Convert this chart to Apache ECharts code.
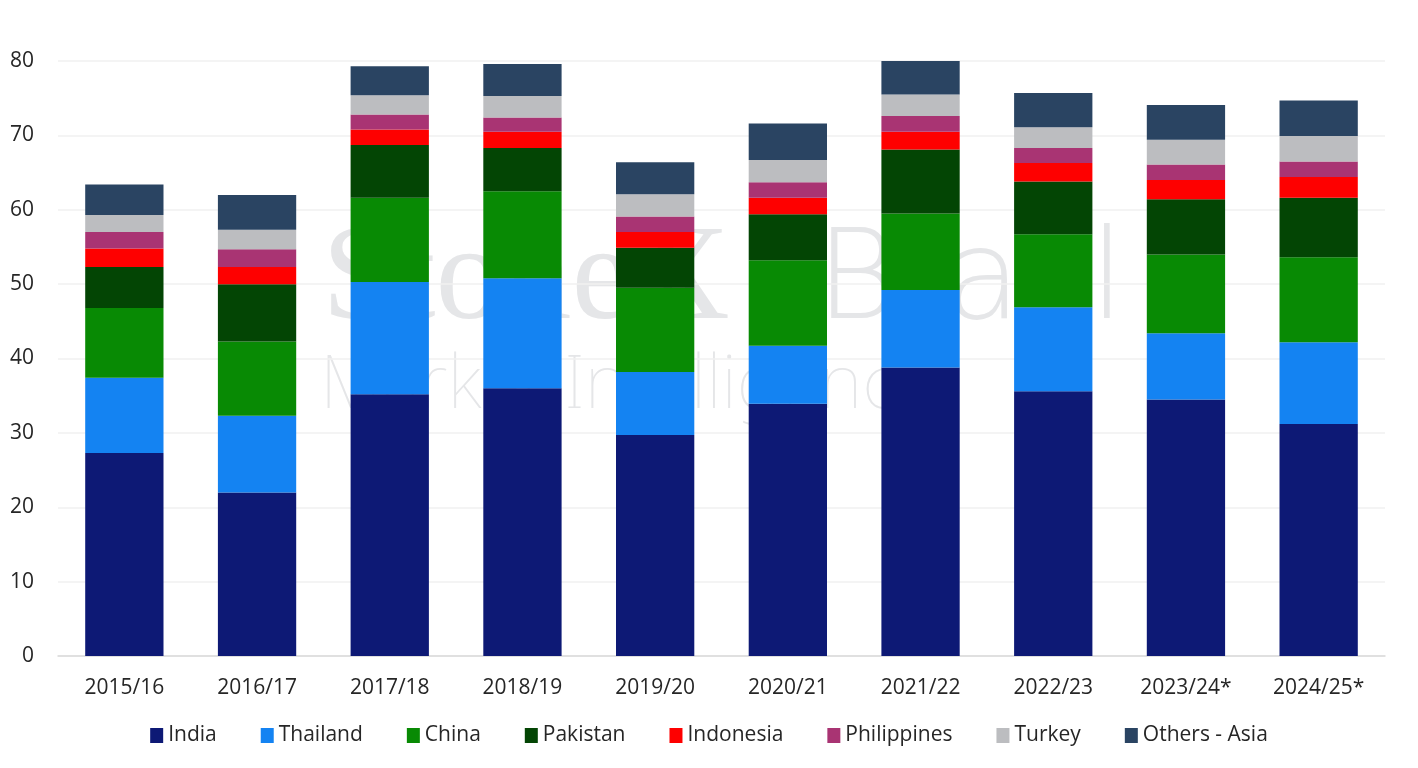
<!DOCTYPE html>
<html>
<head>
<meta charset="utf-8">
<script src="https://cdn.jsdelivr.net/npm/echarts@6/dist/echarts.min.js"></script>
<style>
  html, body { margin: 0; padding: 0; background: #fff; }
  #chart { width: 1418px; height: 768px; }
</style>
</head>
<body>
<div id="chart"></div>
<script>
var seasons = ['2015/16', '2016/17', '2017/18', '2018/19', '2019/20', '2020/21', '2021/22', '2022/23', '2023/24*', '2024/25*'];

var india       = [27.3, 22.0, 35.2, 36.0, 29.7, 33.9, 38.8, 35.6, 34.5, 31.2];
var thailand    = [10.1, 10.3, 15.1, 14.8,  8.5,  7.8, 10.4, 11.3,  8.9, 11.0];
var china       = [ 9.4, 10.0, 11.3, 11.7, 11.3, 11.5, 10.3,  9.8, 10.6, 11.4];
var pakistan    = [ 5.5,  7.7,  7.1,  5.8,  5.4,  6.2,  8.6,  7.1,  7.4,  8.0];
var indonesia   = [ 2.5,  2.3,  2.1,  2.2,  2.1,  2.2,  2.4,  2.5,  2.6,  2.8];
var philippines = [ 2.2,  2.4,  2.0,  1.9,  2.1,  2.1,  2.1,  2.0,  2.1,  2.1];
var turkey      = [ 2.3,  2.6,  2.6,  2.9,  3.0,  3.0,  2.9,  2.8,  3.3,  3.4];
var othersAsia  = [ 4.1,  4.7,  3.9,  4.3,  4.3,  4.9,  4.5,  4.6,  4.7,  4.8];

var yTicks = [0, 10, 20, 30, 40, 50, 60, 70, 80];

var seriesNames = ['India', 'Thailand', 'China', 'Pakistan', 'Indonesia', 'Philippines', 'Turkey', 'Others - Asia'];
var seriesData  = [india, thailand, china, pakistan, indonesia, philippines, turkey, othersAsia];
var colors      = ['#0d1975', '#1483f2', '#088a04', '#034504', '#fe0000', '#a93473', '#bcbdc0', '#2a4462'];

var fontFam = '"Open Sans", Lato, sans-serif';
var wmColor = '#e5e6e8';

var myChart = echarts.init(document.getElementById('chart'));

var series = [];
for (var i = 0; i < seriesNames.length; i++) {
    series.push({
        name: seriesNames[i],
        type: 'bar',
        stack: 'total',
        barWidth: '59%',
        itemStyle: { color: colors[i] },
        emphasis: { disabled: true },
        data: seriesData[i]
    });
}

// faint logo watermark behind the bars
function wm(txt, x, y, size, fam, weight) {
    return {
        type: 'text', left: x, top: y, z: -1, silent: true,
        style: { text: txt, fontSize: size, fontFamily: fam, fontWeight: weight, fill: wmColor }
    };
}

myChart.setOption({
    color: colors,
    animation: false,
    textStyle: { fontFamily: fontFam },
    graphic: [
        wm('StoneX', 322, 214, 136, '"Liberation Serif", serif', 'normal'),
        wm('B', 816, 224, 124, '"DejaVu Sans", sans-serif', 200),
        wm('a', 945, 224, 124, '"DejaVu Sans", sans-serif', 200),
        wm('l', 1090, 224, 124, '"DejaVu Sans", sans-serif', 200),
        wm('Market Intelligence', 320, 350, 74, '"Noto Sans", sans-serif', 100)
    ],
    grid: {
        left: 58,
        right: 33,
        top: 61,
        bottom: 112
    },
    legend: {
        bottom: 17,
        left: 'center',
        icon: 'rect',
        itemWidth: 13,
        itemHeight: 15,
        itemGap: 44,
        textStyle: { fontSize: 21, color: '#262626', fontFamily: fontFam },
        data: seriesNames
    },
    xAxis: {
        type: 'category',
        data: seasons,
        axisTick: { show: false },
        axisLine: { lineStyle: { color: '#d9d9d9', width: 1.5 } },
        axisLabel: { fontSize: 21, color: '#262626', margin: 22, interval: 0 }
    },
    yAxis: {
        type: 'value',
        min: yTicks[0],
        max: yTicks[yTicks.length - 1],
        interval: 10,
        axisLine: { show: false },
        axisTick: { show: false },
        splitLine: { lineStyle: { color: '#f0f0f0', width: 1.5 } },
        axisLabel: { fontSize: 21, color: '#262626', margin: 24 }
    },
    series: series
});
</script>
</body>
</html>
